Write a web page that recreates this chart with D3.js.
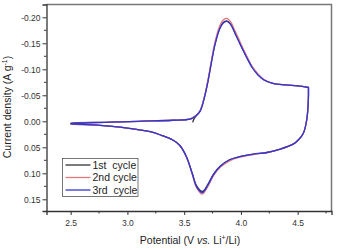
<!DOCTYPE html>
<html lang="en">
<head>
<meta charset="utf-8" />
<title>CV curves</title>
<style>
  * {margin: 0; padding: 0;}
  body {background: #fff;}
  text {font-family: "Liberation Sans", Arial, Helvetica, sans-serif;}
</style>
<script src="https://cdn.jsdelivr.net/npm/d3@7"></script>
</head>
<body>
<div id="viz"></div>
<script>
// potential (V) going up on the anodic branch, then back down on the cathodic branch
var voltsUp = [2.50, 2.80, 3.10, 3.40, 3.55, 3.60, 3.64, 3.68, 3.71, 3.74, 3.77, 3.81, 3.84, 3.875, 3.91, 3.95, 4.00, 4.05, 4.10, 4.15, 4.20, 4.28, 4.40, 4.50, 4.595];
var voltsDown = [4.595, 4.594, 4.58, 4.55, 4.51, 4.46, 4.34, 4.23, 4.11, 3.99, 3.90, 3.82, 3.76, 3.71, 3.66, 3.61, 3.57, 3.52, 3.46, 3.40, 3.30, 3.20, 3.00, 2.70, 2.50];

// current density (A/g)
var cycle1Up = [0.004, 0.002, 0.000, -0.002, -0.004, -0.010, -0.020, -0.048, -0.078, -0.114, -0.147, -0.177, -0.189, -0.193, -0.187, -0.169, -0.146, -0.124, -0.104, -0.090, -0.080, -0.073, -0.070, -0.068, -0.065];
var cycle2Up = [0.004, 0.002, 0.000, -0.002, -0.004, -0.010, -0.020, -0.049, -0.080, -0.117, -0.151, -0.182, -0.194, -0.198, -0.191, -0.173, -0.149, -0.126, -0.105, -0.091, -0.081, -0.073, -0.070, -0.068, -0.065];
var cycle3Up = [0.004, 0.002, 0.000, -0.002, -0.004, -0.010, -0.019, -0.047, -0.077, -0.113, -0.146, -0.176, -0.188, -0.192, -0.186, -0.168, -0.145, -0.123, -0.103, -0.089, -0.080, -0.073, -0.070, -0.068, -0.065];

var cycle1Down = [-0.065, -0.041, -0.003, 0.023, 0.035, 0.044, 0.054, 0.060, 0.063, 0.068, 0.074, 0.086, 0.101, 0.121, 0.135, 0.124, 0.099, 0.068, 0.046, 0.036, 0.027, 0.020, 0.013, 0.007, 0.005];
var cycle2Down = [-0.065, -0.041, -0.003, 0.023, 0.035, 0.044, 0.054, 0.060, 0.064, 0.069, 0.076, 0.088, 0.104, 0.125, 0.140, 0.128, 0.101, 0.069, 0.046, 0.036, 0.027, 0.020, 0.013, 0.007, 0.005];
var cycle3Down = [-0.065, -0.041, -0.003, 0.023, 0.035, 0.044, 0.054, 0.060, 0.063, 0.068, 0.074, 0.086, 0.102, 0.122, 0.137, 0.126, 0.100, 0.068, 0.046, 0.036, 0.027, 0.020, 0.013, 0.007, 0.005];

// first cycle starts near open circuit potential
var cycle1StartV = [3.575, 3.59];
var cycle1StartI = [0.002, -0.006];

var seriesNames = ["1st  cycle", "2nd cycle", "3rd  cycle"];
var seriesColors = ["#333333", "#e07a7a", "#3434d8"];

var xTicks = [2.5, 3.0, 3.5, 4.0, 4.5];
var xTickLabels = ["2.5", "3.0", "3.5", "4.0", "4.5"];
var xMinor = [2.75, 3.25, 3.75, 4.25, 4.75];
var yTicks = [-0.20, -0.15, -0.10, -0.05, 0.00, 0.05, 0.10, 0.15];
var yTickLabels = ["-0.20", "-0.15", "-0.10", "-0.05", "0.00", "0.05", "0.10", "0.15"];
var yMinor = [-0.175, -0.125, -0.075, -0.025, 0.025, 0.075, 0.125];

var w = 339, h = 250;
var padL = 46.5, padR = 331.5, padT = 4.5, padB = 211;

var svg = d3.select("#viz").append("svg").attr("width", w).attr("height", h);

var x = d3.scaleLinear().domain([2.287, 4.798]).range([padL, padR]);
var y = d3.scaleLinear().domain([-0.2246, 0.1725]).range([padT, padB]);

function loop(v1, i1, v2, i2) {
    var pts = [];
    v1.forEach(function(v, k){ pts.push([v, i1[k]]); });
    v2.forEach(function(v, k){ pts.push([v, i2[k]]); });
    return pts;
}

var start1 = cycle1StartV.map(function(v, k){ return [v, cycle1StartI[k]]; });
var loop1 = loop(voltsUp, cycle1Up, voltsDown, cycle1Down);
var series = [
    start1.concat(loop1.filter(function(p, k){ return k > 5; })).concat(loop1.filter(function(p, k){ return k <= 5; })),
    loop(voltsUp, cycle2Up, voltsDown, cycle2Down),
    loop(voltsUp, cycle3Up, voltsDown, cycle3Down)
];

var line = d3.line()
    .x(function(d){ return x(d[0]); })
    .y(function(d){ return y(d[1]); })
    .curve(d3.curveCatmullRom.alpha(0.5));

// frame: top and right border
svg.append("path")
    .attr("d", "M" + padL + "," + padT + "H" + padR + "V" + padB)
    .style("fill", "none").style("stroke", "#777").style("stroke-width", 1.5);

svg.selectAll(".cv")
    .data(series)
    .enter()
    .append("path")
    .attr("class", "cv")
    .attr("d", line)
    .style("fill", "none")
    .style("stroke", function(d, k){ return seriesColors[k]; })
    .style("stroke-width", 1.3);

// axes
var xAxis = d3.axisBottom(x).tickValues(xTicks).tickSize(4).tickPadding(5)
    .tickFormat(function(d, k){ return xTickLabels[k]; });
var gx = svg.append("g").attr("transform", "translate(0," + padB + ")").call(xAxis);
gx.selectAll(".minor").data(xMinor).enter().append("line")
    .attr("x1", function(d){ return x(d); }).attr("x2", function(d){ return x(d); })
    .attr("y1", 0).attr("y2", 2.5).style("stroke", "#333");

var yAxis = d3.axisLeft(y).tickValues(yTicks).tickSize(4).tickPadding(2)
    .tickFormat(function(d, k){ return yTickLabels[k]; });
var gy = svg.append("g").attr("transform", "translate(" + padL + ",0)").call(yAxis);
gy.selectAll(".minor").data(yMinor).enter().append("line")
    .attr("y1", function(d){ return y(d); }).attr("y2", function(d){ return y(d); })
    .attr("x1", 0).attr("x2", -2.5).style("stroke", "#333");

[gx, gy].forEach(function(g){
    g.select(".domain").style("stroke", "#333").style("stroke-width", 1.3);
    g.selectAll(".tick line").style("stroke", "#333");
    g.selectAll("text").style("font-size", "8.5px").style("fill", "#333")
        .style("font-family", '"Liberation Sans", Arial, sans-serif');
});

// axis titles
var yl = svg.append("text")
    .attr("transform", "translate(10.5,107) rotate(-90)")
    .attr("text-anchor", "middle")
    .style("font-size", "10.5px").style("fill", "#222");
yl.append("tspan").text("Current density (A g");
yl.append("tspan").text("-1").attr("dy", -4).style("font-size", "7px");
yl.append("tspan").text(")").attr("dy", 4);

var xl = svg.append("text")
    .attr("x", 190).attr("y", 244)
    .attr("text-anchor", "middle")
    .style("font-size", "10.5px").style("fill", "#222");
xl.append("tspan").text("Potential (V ");
xl.append("tspan").text("vs.").style("font-style", "italic");
xl.append("tspan").text(" Li");
xl.append("tspan").text("+").attr("dy", -4).style("font-size", "7px");
xl.append("tspan").text("/Li)").attr("dy", 4);

// legend
var lg = svg.append("g").attr("transform", "translate(62.5,158.5)");
lg.append("rect").attr("width", 75.5).attr("height", 38)
    .style("fill", "#fff").style("stroke", "#555").style("stroke-width", 0.8);
var items = lg.selectAll(".item").data(seriesNames).enter().append("g")
    .attr("transform", function(d, k){ return "translate(0," + (6.5 + k * 12.5) + ")"; });
items.append("line").attr("x1", 3).attr("x2", 28).attr("y1", 0).attr("y2", 0)
    .style("stroke", function(d, k){ return seriesColors[k]; }).style("stroke-width", 1.3);
items.append("text").attr("x", 30).attr("y", 0).attr("dy", "0.36em")
    .style("font-size", "10.5px").style("fill", "#222")
    .style("white-space", "pre")
    .text(function(d){ return d; });
</script>
</body>
</html>
